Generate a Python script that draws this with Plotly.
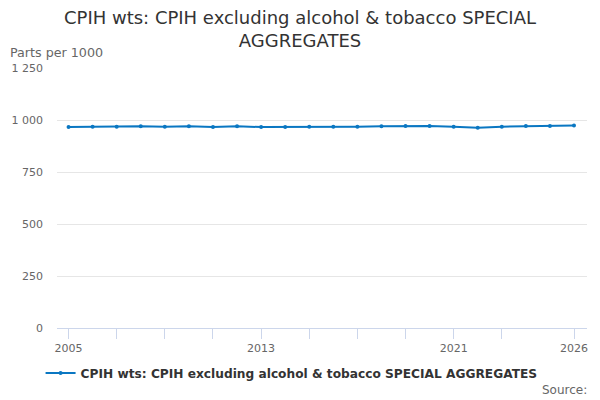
import plotly.graph_objects as go

# data
years = list(range(2005, 2027))
weights = [966, 968, 968, 970, 968, 970, 966, 970, 966, 966, 968,
           968, 968, 970, 971, 971, 968, 963, 968, 971, 971, 974]

x_tick_vals = [2005, 2007, 2009, 2011, 2013, 2015, 2017, 2019, 2021, 2023, 2026]
x_tick_text = ['2005', '', '', '', '2013', '', '', '', '2021', '', '2026']
y_tick_vals = [0, 250, 500, 750, 1000, 1250]

series_name = 'CPIH wts: CPIH excluding alcohol & tobacco SPECIAL AGGREGATES'

trace = go.Scatter(
    x=years, y=weights, name=series_name,
    mode='lines+markers',
    line=dict(color='#0a77c2', width=2),
    marker=dict(color='#0a77c2', size=4),
)

layout = go.Layout(
    width=600, height=400,
    font=dict(family='DejaVu Sans', color='#333333'),
    paper_bgcolor='white', plot_bgcolor='white',
    separators='. ',
    margin=dict(l=57, r=13, t=68, b=72),
    title=dict(
        text='CPIH wts: CPIH excluding alcohol & tobacco SPECIAL<br>AGGREGATES',
        x=0.5, xanchor='center', y=0.94, yanchor='middle',
        font=dict(size=18, color='#333333'),
    ),
    xaxis=dict(
        range=[2004.52, 2026.54], automargin=False,
        tickvals=x_tick_vals, ticktext=x_tick_text,
        ticks='outside', ticklen=10, tickcolor='#ccd6eb',
        showline=True, linecolor='#ccd6eb', linewidth=1,
        showgrid=False, zeroline=False,
        tickfont=dict(size=11, color='#666666'),
    ),
    yaxis=dict(
        range=[0, 1250], tickvals=y_tick_vals, tickformat=',d',
        automargin=False,
        showgrid=True, gridcolor='#e6e6e6', zeroline=False,
        tickfont=dict(size=11, color='#666666'),
        ticklabelstandoff=13,
    ),
    showlegend=True,
    legend=dict(
        orientation='h', x=-0.031, xanchor='left', y=-0.173, yanchor='middle',
        font=dict(size=12.2, color='#333333', weight='bold'),
    ),
    annotations=[
        dict(text='Parts per 1000', xref='paper', yref='paper',
             x=0, xshift=-49, y=1.0615, xanchor='left', yanchor='middle',
             showarrow=False, font=dict(size=12.7, color='#666666')),
        dict(text='Source:', xref='paper', yref='paper',
             x=1.0038, y=-0.238, xanchor='right', yanchor='middle',
             showarrow=False, font=dict(size=12, color='#666666')),
    ],
)

fig = go.Figure(data=[trace], layout=layout)
fig.write_html('out.html', config={'displayModeBar': False},
               post_script="document.body.style.margin='0';")
